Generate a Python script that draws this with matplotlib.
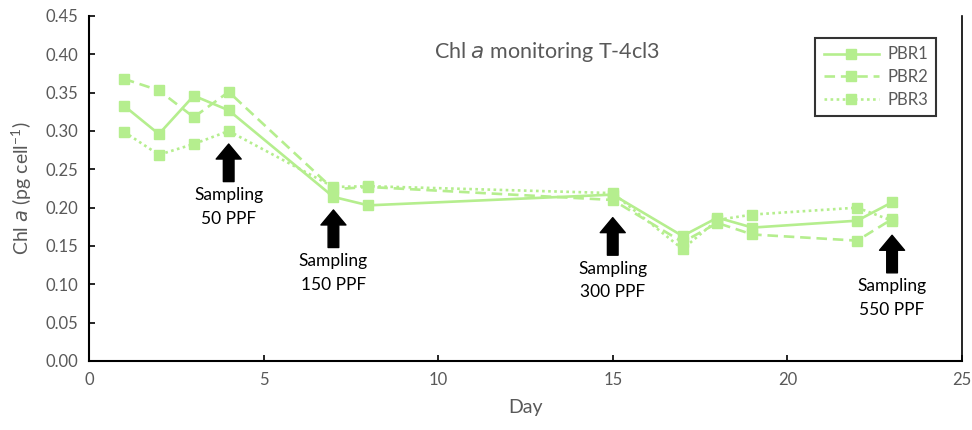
import matplotlib.pyplot as plt

plt.rcParams['font.family'] = ['Lato', 'DejaVu Sans']

# data
days = [1, 2, 3, 4, 7, 8, 15, 17, 18, 19, 22, 23]
pbr1 = [0.333, 0.296, 0.346, 0.327, 0.214, 0.203, 0.217, 0.163, 0.187, 0.174, 0.183, 0.207]
pbr2 = [0.368, 0.353, 0.318, 0.351, 0.224, 0.227, 0.210, 0.155, 0.180, 0.165, 0.157, 0.185]
pbr3 = [0.299, 0.269, 0.283, 0.300, 0.227, 0.228, 0.219, 0.146, 0.184, 0.191, 0.200, 0.183]

sampling_days = [4, 7, 15, 23]
sampling_labels = ['Sampling\n50 PPF', 'Sampling\n150 PPF', 'Sampling\n300 PPF', 'Sampling\n550 PPF']
arrow_tip = [0.283, 0.197, 0.187, 0.164]

green = '#b5ee8e'
grey = '#595959'

fig = plt.figure(figsize=(9.72, 4.3), dpi=100)
ax = fig.add_axes([0.0916, 0.1605, 0.898, 0.8023])

ax.plot(days, pbr1, '-', color=green, lw=1.9, marker='s', ms=6.5, label='PBR1')
ax.plot(days, pbr2, '--', color=green, lw=1.9, marker='s', ms=6.5, label='PBR2', dashes=(4, 2.2))
ax.plot(days, pbr3, ':', color=green, lw=1.9, marker='s', ms=6.5, label='PBR3', dashes=(1, 1.3))

# sampling arrows + labels
for d, lab, tip in zip(sampling_days, sampling_labels, arrow_tip):
    ax.annotate('', xy=(d, tip), xytext=(d, tip - 0.049),
                arrowprops=dict(arrowstyle='simple,head_width=0.75,head_length=0.45,tail_width=0.32',
                                fc='black', ec='black', mutation_scale=24, shrinkA=0, shrinkB=0))
    ax.text(d, tip - 0.056, lab, ha='center', va='top', fontsize=12.5, color='black',
            linespacing=1.6)

ax.set_xlim(0, 25)
ax.set_ylim(0, 0.45)
ax.set_xticks([0, 5, 10, 15, 20, 25])
ax.set_yticks([i * 0.05 for i in range(10)])
ax.set_yticklabels(['%.2f' % (i * 0.05) for i in range(10)])
ax.tick_params(direction='in', length=4, width=1.2, labelsize=12, labelcolor=grey, pad=8)

ax.set_xlabel('Day', fontsize=14, color=grey, labelpad=8)
ax.set_ylabel('Chl $\\mathit{a}$ (pg cell$^{\\mathregular{-1}}$)', fontsize=14, color=grey, labelpad=8)

ax.text(0.525, 0.895, 'Chl $\\mathit{a}$ monitoring T-4cl3', transform=ax.transAxes,
        ha='center', va='center', fontsize=15.5, color=grey)

for side in ['left', 'bottom']:
    ax.spines[side].set_linewidth(1.5)
    ax.spines[side].set_color('black')
ax.spines['top'].set_visible(False)
ax.spines['right'].set_color('black')
ax.spines['right'].set_linewidth(1.2)

leg = ax.legend(loc='upper right', bbox_to_anchor=(0.98, 0.96), fancybox=False,
                edgecolor='black', fontsize=12, handlelength=3.3, labelspacing=0.4,
                borderpad=0.5, handletextpad=0.5)
leg.get_frame().set_linewidth(1.5)
for t in leg.get_texts():
    t.set_color(grey)

fig.savefig('out.png', dpi=100)
